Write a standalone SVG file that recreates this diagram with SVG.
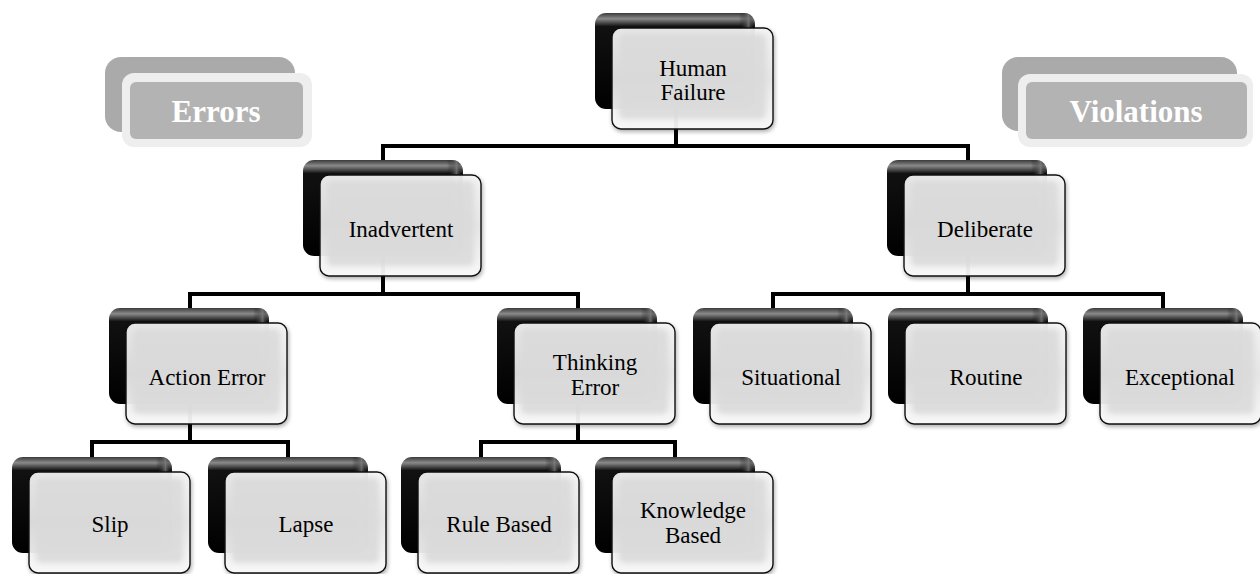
<svg xmlns="http://www.w3.org/2000/svg" width="1260" height="574" viewBox="0 0 1260 574">
<defs>
<linearGradient id="backG" x1="0" y1="0" x2="0" y2="1">
<stop offset="0" stop-color="#3a3a3a"/>
<stop offset="0.06" stop-color="#8a8a8a"/>
<stop offset="0.14" stop-color="#111"/>
<stop offset="1" stop-color="#000"/>
</linearGradient>
<linearGradient id="backSide" x1="0" y1="0" x2="1" y2="0">
<stop offset="0" stop-color="#000" stop-opacity="0"/>
<stop offset="0.9" stop-color="#000" stop-opacity="0"/>
<stop offset="0.96" stop-color="#777" stop-opacity="0.8"/>
<stop offset="1" stop-color="#000" stop-opacity="0"/>
</linearGradient>
<linearGradient id="frontG" x1="0" y1="0" x2="0" y2="1">
<stop offset="0" stop-color="#f4f4f4"/>
<stop offset="0.5" stop-color="#e6e6e6"/>
<stop offset="1" stop-color="#fafafa"/>
</linearGradient>
<filter id="soft" x="-10%" y="-10%" width="120%" height="120%">
<feGaussianBlur stdDeviation="2.5"/>
</filter>
<filter id="shadow" x="-10%" y="-10%" width="130%" height="130%">
<feGaussianBlur in="SourceAlpha" stdDeviation="2"/>
<feOffset dx="1" dy="2"/>
<feComponentTransfer><feFuncA type="linear" slope="0.35"/></feComponentTransfer>
<feMerge><feMergeNode/><feMergeNode in="SourceGraphic"/></feMerge>
</filter>
<g id="node">
<rect x="0" y="0" width="160" height="96" rx="11" fill="url(#backG)"/>
<rect x="0" y="0" width="160" height="96" rx="11" fill="url(#backSide)"/>
<g filter="url(#shadow)">
<rect x="17" y="15" width="161" height="101" rx="9" fill="url(#frontG)" fill-opacity="0.93" stroke="#111" stroke-width="1.4"/>
</g>
<rect x="24" y="21" width="147" height="85" rx="6" fill="#d9d9d9" fill-opacity="0.85" filter="url(#soft)"/>
</g>
<g id="label">
<rect x="0" y="0" width="190" height="75" rx="16" fill="#aaaaaa"/>
</g>
</defs>
<style>
.conn{fill:none;stroke:#000;stroke-width:4;stroke-linejoin:miter}
.t{font-family:"Liberation Serif","Times New Roman",serif;font-size:23px;fill:#000;text-anchor:middle}
.lt{font-family:"Liberation Serif","Times New Roman",serif;font-size:31px;font-weight:bold;fill:#fff;text-anchor:middle}
</style>

<g id="label-errors">
<rect x="105" y="57" width="190" height="75" rx="16" fill="#aaaaaa"/>
<rect x="122" y="73" width="190" height="74" rx="12" fill="#eeeeee"/>
<rect x="130" y="82" width="173" height="57" rx="6" fill="#b3b3b3"/>
<text class="lt" x="216" y="122">Errors</text>
</g>
<g id="label-violations">
<rect x="1002" y="57" width="235" height="74" rx="16" fill="#aaaaaa"/>
<rect x="1018" y="74" width="235" height="73" rx="12" fill="#eeeeee"/>
<rect x="1026" y="82" width="221" height="57" rx="6" fill="#b3b3b3"/>
<text class="lt" x="1136" y="122">Violations</text>
</g>

<g id="connectors">
<path class="conn" d="M676 105 V146 M383 162 V146 H968 V162"/>
<path class="conn" d="M383 252 V294 M190 310 V294 H578 V310"/>
<path class="conn" d="M968 252 V294 M773 310 V294 H1163 V310"/>
<path class="conn" d="M190 400 V442 M92 459 V442 H288 V459"/>
<path class="conn" d="M578 400 V442 M481 459 V442 H675 V459"/>
</g>

<g id="n-human-failure">
<use href="#node" x="595" y="13"/>
<text class="t" x="693" y="76">Human</text>
<text class="t" x="693" y="100">Failure</text>
</g>
<g id="n-inadvertent">
<use href="#node" x="303" y="160"/>
<text class="t" x="401" y="237">Inadvertent</text>
</g>
<g id="n-deliberate">
<use href="#node" x="887" y="160"/>
<text class="t" x="985" y="237">Deliberate</text>
</g>
<g id="n-action-error">
<use href="#node" x="109" y="308"/>
<text class="t" x="207" y="385">Action Error</text>
</g>
<g id="n-thinking-error">
<use href="#node" x="497" y="308"/>
<text class="t" x="595" y="370">Thinking</text>
<text class="t" x="595" y="395">Error</text>
</g>
<g id="n-situational">
<use href="#node" x="693" y="308"/>
<text class="t" x="791" y="385">Situational</text>
</g>
<g id="n-routine">
<use href="#node" x="888" y="308"/>
<text class="t" x="986" y="385">Routine</text>
</g>
<g id="n-exceptional">
<use href="#node" x="1083" y="308"/>
<text class="t" x="1180" y="385">Exceptional</text>
</g>
<g id="n-slip">
<use href="#node" x="12" y="457"/>
<text class="t" x="110" y="532">Slip</text>
</g>
<g id="n-lapse">
<use href="#node" x="208" y="457"/>
<text class="t" x="306" y="532">Lapse</text>
</g>
<g id="n-rule-based">
<use href="#node" x="401" y="457"/>
<text class="t" x="499" y="532">Rule Based</text>
</g>
<g id="n-knowledge-based">
<use href="#node" x="595" y="457"/>
<text class="t" x="693" y="518">Knowledge</text>
<text class="t" x="693" y="543">Based</text>
</g>
</svg>
